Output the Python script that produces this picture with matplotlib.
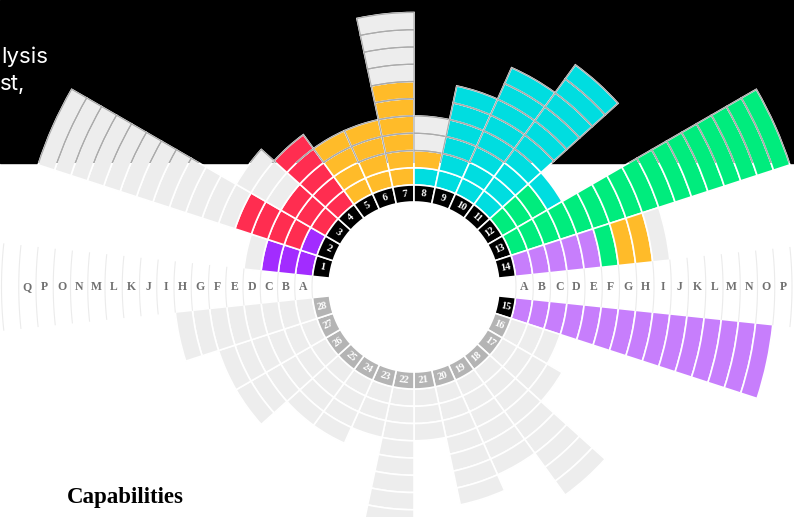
import numpy as np
import matplotlib.pyplot as plt
from matplotlib.patches import Rectangle

# segment numbers: 1-14 in the upper half, 15-28 in the lower half
segments = list(range(1, 29))

# blocks of each segment, from the inner ring outwards
# P purple, R red, O orange, C cyan, N green, L lilac, G grey (empty)
cells = [
    'PPPG', 'PRRRRGGGGGGGGGGGG', 'RRRGGG', 'RRRRR', 'OOOO', 'OOOO',
    'OOOOOOGGGG', 'COGG', 'CCCCCC', 'CCCCCCCC', 'CCCCCCCCCC', 'NNNC',
    'NNNNNNNNNNNNNNNNN', 'LLLLLNOOG',
    'LLLLLLLLLLLLLLL', 'GGG', 'GGGG', 'GGGGGGGGG', 'GGGGGG', 'GGGGGGG',
    'GGG', 'GGGGGGGGGG', 'GGG', 'GGGG', 'GGGG', 'GGGGGG', 'GGGGGG', 'GGGGGGGG',
]

levels_left = list('ABCDEFGHIJKLMNOPQ')
levels_right = list('ABCDEFGHIJKLMNOP')

palette = {'P': '#a22cff', 'R': '#ff2d50', 'O': '#ffbb29', 'C': '#00dde0',
           'N': '#00ec7d', 'L': '#c77efc', 'G': '#ededed'}

# angle (deg) at the middle of each segment
angles = [168 - 12 * k for k in range(14)] + [-12 - 12 * k for k in range(14)]

W, H = 794, 517
fig = plt.figure(figsize=(W / 100, H / 100), dpi=100)
fig.patch.set_facecolor('white')

top = 163 / H
fig.add_artist(Rectangle((0, 1 - top), 1, top, transform=fig.transFigure,
                         color='black', zorder=0))
top_clip = Rectangle((0, 1 - top), 1, top, transform=fig.transFigure)

cx, cy, R = 414, 287, 420
ax = fig.add_axes([(cx - R) / W, (H - cy - R) / H, 2 * R / W, 2 * R / H],
                  projection='polar')
ax.set_zorder(1)
ax.set_ylim(0, R)
ax.axis('off')

r0, step = 102, 17.25
w = np.deg2rad(12)

for seg, code, ang in zip(segments, cells, angles):
    th = np.deg2rad(ang)
    n = len(code)
    bottoms = r0 + step * np.arange(n)
    cols = [palette[c] for c in code]
    ax.bar([th] * n, step, width=w, bottom=bottoms, color=cols,
           edgecolor='white', linewidth=1.2)
    # over the black band the gaps between blocks read as grey lines
    outl = ax.bar([th] * n, step, width=w, bottom=bottoms, color='none',
                  edgecolor='#ababab', linewidth=0.9)
    for p in outl:
        p.set_clip_path(top_clip)

    # numbered inner ring
    ax.bar(th, r0 - 85, width=w, bottom=85,
           color='black' if seg <= 15 else '#b4b4b4',
           edgecolor='white', linewidth=1.2)
    rot = ang - 90 if ang > 0 else ang + 90
    rot = (rot + 45) % 90 - 45
    ax.text(th, 93.5, str(seg), rotation=rot, ha='center', va='center',
            color='white', fontsize=7.5, family='Liberation Serif',
            fontweight='bold')

# letter band on both sides
for k in range(len(levels_left) + 2):
    r = r0 + step * k
    for a in (0, 180):
        t = np.deg2rad(np.linspace(a - 6, a + 6, 30))
        ax.plot(t, [r] * len(t), color='#ebebeb', lw=0.8)

for j, lab in enumerate(levels_left):
    ax.text(np.pi, r0 + step * (j + 0.5), lab, ha='center', va='center',
            color='#707070', fontsize=8.5, family='Liberation Serif',
            fontweight='bold')
for j, lab in enumerate(levels_right):
    ax.text(0, r0 + step * (j + 0.5), lab, ha='center', va='center',
            color='#707070', fontsize=8.5, family='Liberation Serif',
            fontweight='bold')

fig.text(0.002, 1 - 63 / H, 'lysis', color='white', fontsize=16,
         family='Inter', va='baseline')
fig.text(0.0, 1 - 90 / H, 'st,', color='white', fontsize=16,
         family='Inter', va='baseline')
fig.text(67 / W, 1 - 503 / H, 'Capabilities', color='black', fontsize=16.5,
         family='Liberation Serif', fontweight='bold', va='baseline')

fig.savefig('out.png', dpi=100)
